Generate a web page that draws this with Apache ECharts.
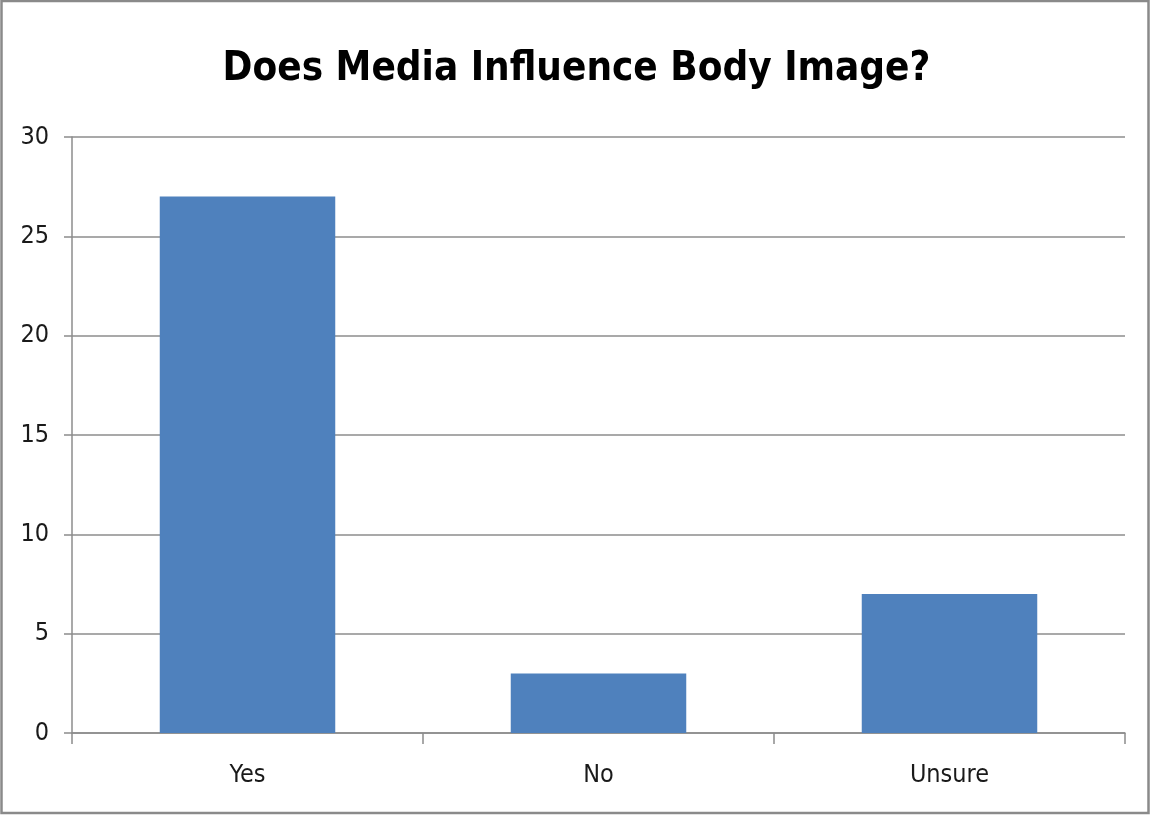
<!DOCTYPE html>
<html>
<head>
<meta charset="utf-8">
<script src="https://cdn.jsdelivr.net/npm/echarts@6/dist/echarts.min.js"></script>
<style>
  html, body { margin: 0; padding: 0; background: #fff; }
  #chart { width: 1153px; height: 815px; }
</style>
</head>
<body>
<div id="chart"></div>
<script>
// Survey responses
const categories = ['Yes', 'No', 'Unsure'];
const responses = [27, 3, 7];
const yTicks = [0, 5, 10, 15, 20, 25, 30];

const chart = echarts.init(document.getElementById('chart'), null, { renderer: 'canvas' });
const labelFont = '"Liberation Sans Narrow", "DejaVu Sans Condensed", "Open Sans", sans-serif';

chart.setOption({
  animation: false,
  backgroundColor: '#ffffff',
  title: {
    text: 'Does Media Influence Body Image?',
    left: 'center',
    top: 45,
    textStyle: {
      fontFamily: labelFont,
      fontWeight: 'bold',
      fontSize: 40,
      color: '#000'
    }
  },
  graphic: [{
    type: 'rect',
    shape: { x: 1.5, y: 1, width: 1147, height: 812 },
    style: { fill: 'none', stroke: '#8a8a8a', lineWidth: 2.5 },
    silent: true
  }],
  grid: { left: 72, right: 28, top: 137, bottom: 82, containLabel: false },
  xAxis: {
    type: 'category',
    data: categories,
    axisLine: { lineStyle: { color: '#8c8c8c', width: 1.5 } },
    axisTick: { show: true, length: 11, alignWithLabel: false, lineStyle: { color: '#8c8c8c', width: 1.5 } },
    axisLabel: { fontFamily: labelFont, fontSize: 25, color: '#1a1a1a', margin: 30 }
  },
  yAxis: {
    type: 'value',
    min: yTicks[0],
    max: yTicks[yTicks.length - 1],
    interval: 5,
    axisLine: { show: true, lineStyle: { color: '#8c8c8c', width: 1.5 } },
    axisTick: { show: true, length: 8, lineStyle: { color: '#8c8c8c', width: 1.5 } },
    axisLabel: { fontFamily: labelFont, fontSize: 25, color: '#1a1a1a', margin: 23 },
    splitLine: { show: true, lineStyle: { color: '#8c8c8c', width: 1.5 } }
  },
  series: [{
    type: 'bar',
    data: responses,
    barCategoryGap: '50%',
    itemStyle: { color: '#4f81bd' }
  }]
});
</script>
</body>
</html>
